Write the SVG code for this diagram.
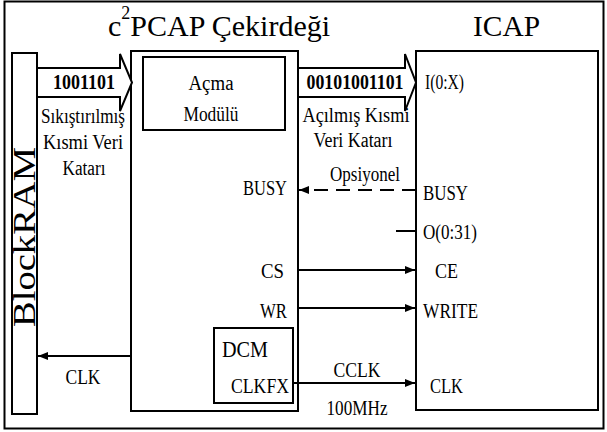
<svg xmlns="http://www.w3.org/2000/svg" width="607" height="432" viewBox="0 0 607 432" font-family="'Liberation Serif', 'DejaVu Serif', serif">
<defs>
<style>
text{font-family:"Liberation Serif","DejaVu Serif",serif;fill:#000}
.box{fill:#fff;stroke:#000;stroke-width:2}
.ln{stroke:#000;stroke-width:2;fill:none}
.lbl{font-size:20px}
.bold{font-size:20px;font-weight:bold}
</style>
<marker id="ah" viewBox="0 0 10 10" refX="10" refY="5" markerWidth="10" markerHeight="10" markerUnits="userSpaceOnUse" orient="auto">
<path d="M0,1 L10,5 L0,9 z" fill="#000"/>
</marker>
</defs>
<rect x="0" y="0" width="607" height="432" fill="#fff"/>
<rect x="4.5" y="1.5" width="599" height="427" class="box"/>
<text x="108" y="36" font-size="30">c<tspan font-size="18" dy="-17">2</tspan><tspan dy="17">PCAP Çekirdeği</tspan></text>
<text x="473" y="36" font-size="30" textLength="67" lengthAdjust="spacingAndGlyphs">ICAP</text>

<g id="blockram">
<rect x="12" y="53" width="25" height="361" class="box"/>
<text transform="translate(35,327) rotate(-90)" font-size="32" textLength="180" lengthAdjust="spacingAndGlyphs">BlockRAM</text>
</g>

<g id="core">
<rect x="131" y="51" width="167" height="360" class="box"/>
<text x="287" y="195" class="lbl" text-anchor="end" textLength="44" lengthAdjust="spacingAndGlyphs">BUSY</text>
<text x="284" y="278" class="lbl" text-anchor="end" textLength="23" lengthAdjust="spacingAndGlyphs">CS</text>
<text x="287" y="318" class="lbl" text-anchor="end" textLength="27" lengthAdjust="spacingAndGlyphs">WR</text>
</g>

<g id="acma">
<rect x="143" y="57" width="142" height="73" class="box"/>
<text x="211" y="90" class="lbl" text-anchor="middle" textLength="45" lengthAdjust="spacingAndGlyphs">Açma</text>
<text x="211" y="121" class="lbl" text-anchor="middle" textLength="55" lengthAdjust="spacingAndGlyphs">Modülü</text>
</g>

<g id="dcm">
<rect x="214" y="328" width="79" height="75" class="box"/>
<text x="222" y="357" font-size="23" textLength="46" lengthAdjust="spacingAndGlyphs">DCM</text>
<text x="289" y="393" class="lbl" text-anchor="end" textLength="58" lengthAdjust="spacingAndGlyphs">CLKFX</text>
</g>

<g id="icap">
<rect x="416" y="51" width="182" height="359" class="box"/>
<text x="425" y="89" class="lbl" textLength="39" lengthAdjust="spacingAndGlyphs">I(0:X)</text>
<text x="423" y="200" class="lbl" textLength="45" lengthAdjust="spacingAndGlyphs">BUSY</text>
<text x="423" y="239" class="lbl" textLength="54" lengthAdjust="spacingAndGlyphs">O(0:31)</text>
<text x="435" y="278" class="lbl" textLength="23" lengthAdjust="spacingAndGlyphs">CE</text>
<text x="423" y="318" class="lbl" textLength="55" lengthAdjust="spacingAndGlyphs">WRITE</text>
<text x="430" y="393" class="lbl" textLength="33" lengthAdjust="spacingAndGlyphs">CLK</text>
</g>

<g id="connectors">
<polygon points="37,68 120,68 120,54 132,82.5 120,111 120,97 37,97" class="box"/>
<polygon points="298,68 405,68 405,54 416,82.5 405,111 405,97 298,97" class="box"/>
<line x1="416" y1="190" x2="299" y2="190" class="ln" stroke-dasharray="14,8" marker-end="url(#ah)"/>
<line x1="396" y1="231" x2="416" y2="231" class="ln"/>
<line x1="298" y1="270" x2="415" y2="270" class="ln" marker-end="url(#ah)"/>
<line x1="298" y1="308" x2="415" y2="308" class="ln" marker-end="url(#ah)"/>
<line x1="293" y1="383" x2="415" y2="383" class="ln" marker-end="url(#ah)"/>
<line x1="131" y1="356" x2="38" y2="356" class="ln" marker-end="url(#ah)"/>
</g>

<g id="labels">
<text x="84" y="89" class="bold" text-anchor="middle" textLength="62" lengthAdjust="spacingAndGlyphs">1001101</text>
<text x="83" y="123" class="lbl" text-anchor="middle" textLength="84" lengthAdjust="spacingAndGlyphs">Sıkıştırılmış</text>
<text x="83" y="149" class="lbl" text-anchor="middle" textLength="80" lengthAdjust="spacingAndGlyphs">Kısmi Veri</text>
<text x="84" y="175" class="lbl" text-anchor="middle" textLength="43" lengthAdjust="spacingAndGlyphs">Katarı</text>
<text x="355" y="89" class="bold" text-anchor="middle" textLength="97" lengthAdjust="spacingAndGlyphs">00101001101</text>
<text x="356" y="122" class="lbl" text-anchor="middle" textLength="107" lengthAdjust="spacingAndGlyphs">Açılmış Kısmi</text>
<text x="353" y="147" class="lbl" text-anchor="middle" textLength="79" lengthAdjust="spacingAndGlyphs">Veri Katarı</text>
<text x="365" y="181" class="lbl" text-anchor="middle" textLength="70" lengthAdjust="spacingAndGlyphs">Opsiyonel</text>
<text x="357" y="377" class="lbl" text-anchor="middle" textLength="47" lengthAdjust="spacingAndGlyphs">CCLK</text>
<text x="357" y="415" class="lbl" text-anchor="middle" textLength="61" lengthAdjust="spacingAndGlyphs">100MHz</text>
<text x="83" y="384" class="lbl" text-anchor="middle" textLength="35" lengthAdjust="spacingAndGlyphs">CLK</text>
</g>
</svg>
